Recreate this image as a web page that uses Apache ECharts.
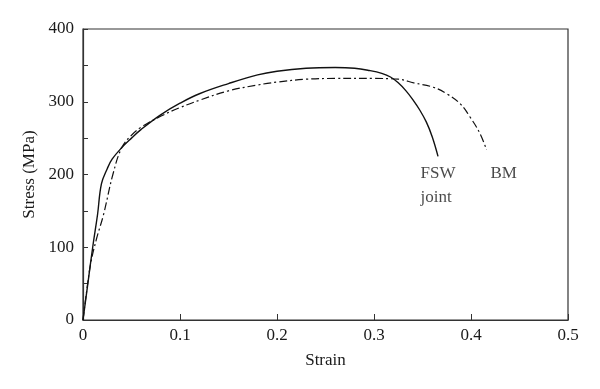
<!DOCTYPE html>
<html>
<head>
<meta charset="utf-8">
<script src="https://cdn.jsdelivr.net/npm/echarts@6/dist/echarts.min.js"></script>
<style>html,body{margin:0;padding:0;background:#fff;}#c{width:600px;height:389px;}</style>
</head>
<body>
<div id="c"></div>
<script>
var fswStrain = [0, 0.005, 0.01, 0.015, 0.019, 0.025, 0.03, 0.04, 0.05, 0.06, 0.08, 0.1, 0.12, 0.15, 0.18, 0.2, 0.23, 0.26, 0.28, 0.295, 0.308, 0.317, 0.325, 0.333, 0.34, 0.347, 0.354, 0.36, 0.366];
var fswStress = [0, 50, 100, 145, 187, 208, 221, 237, 250, 262, 282, 298, 311, 325, 337, 342, 346, 347, 346, 343, 339, 334, 326, 315, 303, 289, 272, 252, 225];
var bmStrain = [0, 0.004, 0.008, 0.014, 0.021, 0.031, 0.04, 0.05, 0.06, 0.08, 0.1, 0.12, 0.15, 0.18, 0.2, 0.23, 0.26, 0.3, 0.325, 0.341, 0.361, 0.375, 0.389, 0.399, 0.409, 0.416];
var bmStress = [0, 42, 78, 112, 144, 201, 237, 254, 265, 280, 292, 302, 315, 323, 327, 331, 332, 332, 331, 326, 320, 311, 297, 279, 257, 234];
var xTicks = [0, 0.1, 0.2, 0.3, 0.4, 0.5];
var yTicks = [0, 100, 200, 300, 400];
var labels = [
  {text: 'FSW', strain: 0.348, stress: 201},
  {text: 'joint', strain: 0.348, stress: 168},
  {text: 'BM', strain: 0.42, stress: 201}
];

function pairs(xs, ys) { return xs.map(function (x, i) { return [x, ys[i]]; }); }

var font = 'Liberation Serif';
var chart = echarts.init(document.getElementById('c'));
chart.setOption({
  animation: false,
  backgroundColor: '#fff',
  grid: {left: 83, right: 32, top: 29, bottom: 69, show: true, borderColor: '#333', borderWidth: 1.2},
  xAxis: {
    type: 'value', min: 0, max: 0.5, interval: 0.1,
    name: 'Strain', nameLocation: 'middle', nameGap: 32,
    nameTextStyle: {fontFamily: font, fontSize: 17, color: '#1a1a1a'},
    axisLine: {show: true, lineStyle: {color: '#333', width: 1.2}},
    axisTick: {show: true, inside: true, length: 6, lineStyle: {color: '#333'}},
    axisLabel: {fontFamily: font, fontSize: 17, color: '#1a1a1a', margin: 7,
      formatter: function (v) { return xTicks.indexOf(Math.round(v * 10) / 10) >= 0 ? String(Math.round(v * 10) / 10) : ''; }},
    splitLine: {show: false}
  },
  yAxis: {
    type: 'value', min: 0, max: 400, interval: 50,
    name: 'Stress (MPa)', nameLocation: 'middle', nameGap: 44,
    nameTextStyle: {fontFamily: font, fontSize: 17, color: '#1a1a1a'},
    axisLine: {show: true, lineStyle: {color: '#333', width: 1.2}},
    axisTick: {show: true, inside: true, length: 5, lineStyle: {color: '#333'}},
    axisLabel: {fontFamily: font, fontSize: 17, color: '#1a1a1a', margin: 9,
      formatter: function (v) { return yTicks.indexOf(v) >= 0 ? String(v) : ''; }},
    splitLine: {show: false}
  },
  series: [
    {type: 'line', name: 'FSW joint', data: pairs(fswStrain, fswStress), smooth: 0.4, showSymbol: false,
      lineStyle: {color: '#111', width: 1.4}},
    {type: 'line', name: 'BM', data: pairs(bmStrain, bmStress), smooth: 0.4, showSymbol: false,
      lineStyle: {color: '#111', width: 1.2, type: [8, 3, 2, 3]}},
    {type: 'scatter', symbolSize: 0, silent: true,
      data: labels.map(function (l) { return {value: [l.strain, l.stress], name: l.text}; }),
      label: {show: true, position: 'right', distance: 0, formatter: '{b}', fontFamily: font, fontSize: 17, color: '#1a1a1a'}}
  ]
});
</script>
</body>
</html>
